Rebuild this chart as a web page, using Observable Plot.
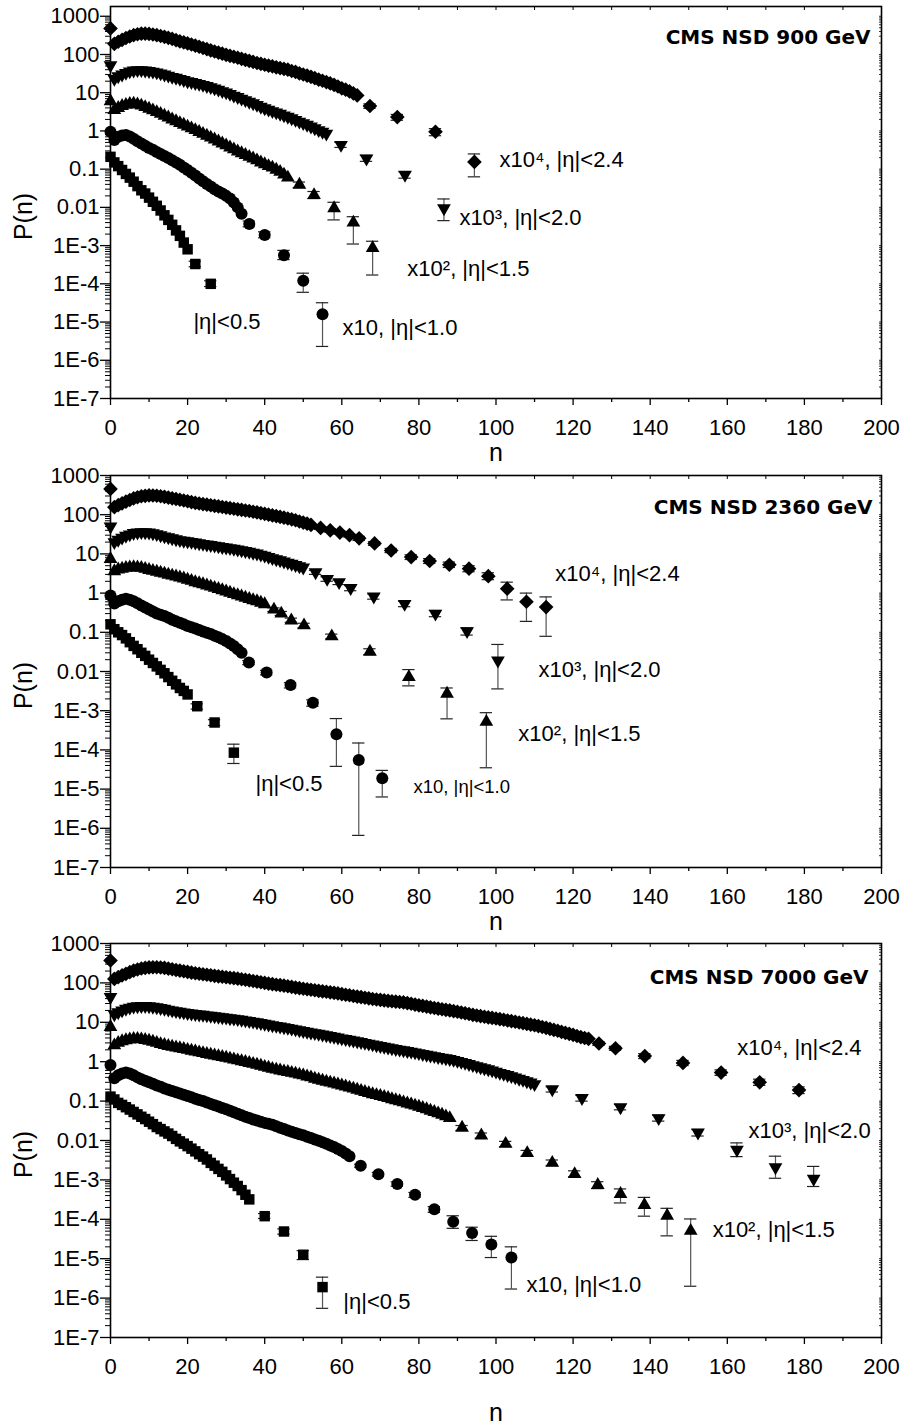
<!DOCTYPE html>
<html><head><meta charset="utf-8">
<script src="https://cdn.jsdelivr.net/npm/d3@7"></script>
<script src="https://cdn.jsdelivr.net/npm/@observablehq/plot@0.6"></script>
<style>
html,body{margin:0;padding:0;background:#fff;}
#chart{width:903px;}
#chart svg{display:block;}
</style></head><body><div id="chart"></div>
<script>
// ---------- dense part of every series: one value per multiplicity n = 0, 1, 2, ... ----------
// ---------- 900 GeV ----------
const dense900_05 = [0.21, 0.15, 0.12, 0.095, 0.075, 0.06, 0.047, 0.036, 0.028, 0.023, 0.018, 0.014, 0.011, 0.0083, 0.0062, 0.0047, 0.0035, 0.0025, 0.0018, 0.0012, 0.0008];
const dense900_10 = [0.95, 0.58, 0.7, 0.76, 0.78, 0.71, 0.62, 0.54, 0.47, 0.41, 0.36, 0.32, 0.28, 0.25, 0.22, 0.195, 0.17, 0.15, 0.13, 0.11, 0.095, 0.08, 0.068, 0.057, 0.048, 0.041, 0.035, 0.03, 0.026, 0.023, 0.02, 0.017, 0.0135, 0.01, 0.0068];
const dense900_15 = [6, 3.5, 4.0, 4.5, 4.8, 5.1, 5.2, 4.9, 4.6, 4.2, 3.8, 3.45, 3.1, 2.8, 2.5, 2.25, 2.0, 1.8, 1.6, 1.45, 1.3, 1.17, 1.05, 0.94, 0.84, 0.75, 0.67, 0.6, 0.53, 0.47, 0.42, 0.37, 0.33, 0.29, 0.26, 0.235, 0.21, 0.19, 0.17, 0.15, 0.135, 0.12, 0.11, 0.097, 0.085, 0.072, 0.06];
const dense900_20 = [52, 23, 27, 30, 33, 36, 38, 39, 39, 38, 37, 35.5, 34, 32, 30, 28, 26, 24.5, 23, 21.5, 20, 19, 18, 17, 16, 15, 14, 13, 12, 11, 10.2, 9.3, 8.4, 7.7, 7.0, 6.4, 5.8, 5.3, 4.8, 4.3, 3.9, 3.6, 3.3, 3.05, 2.8, 2.55, 2.35, 2.15, 1.95, 1.75, 1.6, 1.45, 1.3, 1.17, 1.05, 0.95, 0.85];
const dense900_24 = [480, 190, 215, 240, 270, 295, 320, 338, 350, 350, 345, 333, 320, 305, 290, 272, 255, 237, 220, 207, 195, 182, 170, 159, 148, 138, 128, 120, 112, 105, 98, 92, 87, 82, 77, 72, 68, 64, 60, 57, 54, 51, 49, 46, 44, 42, 40, 37, 35, 32, 30, 28, 26, 24, 22, 20.5, 19, 17.5, 16, 14.5, 13, 12, 10.8, 9.6, 8.5];
// tail points: [n, P, low, high]
const tail900_05 = [[22, 3.3e-4, 2.8e-4, 3.9e-4], [26, 1.0e-4, 8.5e-5, 1.2e-4]];
const tail900_10 = [[36, 0.0037, 0.0031, 0.0044], [40, 0.0019, 0.0016, 0.0023], [45, 5.6e-4, 4.3e-4, 7.5e-4], [50, 1.2e-4, 6e-5, 1.9e-4], [55, 1.6e-5, 2.3e-6, 3.2e-5]];
const tail900_15 = [[49, 0.039, 0.033, 0.046], [52.8, 0.021, 0.017, 0.026], [58, 0.0095, 0.0047, 0.0136], [63, 0.004, 0.0011, 0.0057], [68, 8.6e-4, 1.7e-4, 0.0013]];
const tail900_20 = [[59.8, 0.43, 0.37, 0.5], [66.4, 0.19, 0.16, 0.23], [76.4, 0.071, 0.058, 0.085], [86.5, 0.0095, 0.0045, 0.0166]];
const tail900_24 = [[67.3, 4.5, 3.9, 5.1], [74.4, 2.3, 1.9, 2.7], [84.3, 0.95, 0.75, 1.15], [94.4, 0.155, 0.063, 0.25]];

// ---------- 2360 GeV ----------
const dense2360_05 = [0.16, 0.12, 0.1, 0.085, 0.07, 0.056, 0.045, 0.037, 0.03, 0.025, 0.02, 0.0165, 0.0135, 0.011, 0.009, 0.0072, 0.0058, 0.0047, 0.0038, 0.0032, 0.0026];
const dense2360_10 = [0.87, 0.54, 0.62, 0.68, 0.72, 0.68, 0.62, 0.55, 0.48, 0.43, 0.38, 0.34, 0.3, 0.28, 0.26, 0.235, 0.21, 0.19, 0.175, 0.16, 0.145, 0.135, 0.125, 0.115, 0.105, 0.097, 0.09, 0.082, 0.075, 0.067, 0.06, 0.052, 0.045, 0.037, 0.03];
const dense2360_15 = [7.4, 3.6, 4.0, 4.2, 4.4, 4.5, 4.6, 4.5, 4.4, 4.15, 3.9, 3.7, 3.5, 3.3, 3.15, 2.95, 2.8, 2.65, 2.5, 2.35, 2.2, 2.05, 1.9, 1.78, 1.68, 1.57, 1.46, 1.36, 1.27, 1.18, 1.1, 1.02, 0.94, 0.88, 0.82, 0.76, 0.71, 0.66, 0.62, 0.57, 0.52];
const dense2360_20 = [50, 20, 23, 26, 29, 31.5, 34, 35, 36, 35.5, 35, 33.5, 32, 30, 28, 26.5, 25, 23.7, 22.5, 21.7, 21, 20.2, 19.5, 18.7, 18, 17.4, 16.8, 16.2, 15.6, 15, 14.5, 14, 13.5, 12.9, 12.4, 11.8, 11.3, 10.7, 10.2, 9.6, 9.0, 8.4, 7.8, 7.3, 6.9, 6.4, 6.0, 5.6, 5.2, 4.85, 4.5];
const dense2360_24 = [455, 156, 175, 195, 215, 237, 260, 278, 295, 303, 310, 308, 305, 295, 285, 273, 262, 251, 240, 230, 220, 210, 200, 193, 186, 180, 174, 168, 163, 157, 152, 147, 142, 137, 133, 128, 124, 119, 115, 110, 105, 100, 96, 92, 88, 84, 80, 76, 72, 67, 63, 59, 55];
const tail2360_05 = [[22.5, 0.0013, 0.0011, 0.0015], [27, 5e-4, 4.2e-4, 5.9e-4], [32, 8.5e-5, 4.5e-5, 1.4e-4]];
const tail2360_10 = [[35.9, 0.017, 0.015, 0.019], [40.5, 0.0094, 0.0082, 0.0107], [46.7, 0.0045, 0.0038, 0.0052], [52.5, 0.0016, 0.0013, 0.0019], [58.6, 2.5e-4, 3.8e-5, 6.3e-4], [64.4, 5.5e-5, 6.6e-7, 1.5e-4], [70.5, 1.9e-5, 6.3e-6, 3e-5]];
const tail2360_15 = [[42.4, 0.38, 0.34, 0.42], [44.3, 0.3, 0.27, 0.34], [46.9, 0.2, 0.18, 0.23], [50.2, 0.15, 0.13, 0.17], [57.4, 0.079, 0.068, 0.09], [67.3, 0.032, 0.027, 0.038], [77.4, 0.0072, 0.0043, 0.0112], [87.3, 0.0027, 6.2e-4, 0.0038], [97.5, 5.2e-4, 3.5e-5, 8.9e-4]];
const tail2360_20 = [[53.2, 3.4, 3.0, 3.8], [56.2, 2.3, 2.0, 2.6], [59.3, 1.9, 1.65, 2.15], [62.3, 1.35, 1.15, 1.55], [68.3, 0.82, 0.7, 0.95], [76.3, 0.53, 0.45, 0.62], [84.3, 0.3, 0.25, 0.36], [92.5, 0.107, 0.085, 0.13], [100.5, 0.019, 0.0036, 0.049]];
const tail2360_24 = [[54.5, 46, 42, 50], [57, 40, 36, 44], [59.5, 35, 32, 38], [62, 30, 27, 33], [64.5, 25, 22, 28], [68.5, 18.5, 16.5, 20.5], [72.8, 12.2, 10.8, 13.8], [78, 8.3, 7.2, 9.5], [82.8, 6.6, 5.7, 7.6], [87.9, 5.3, 4.5, 6.2], [93, 4.2, 3.5, 5.0], [98, 2.7, 2.2, 3.3], [102.9, 1.3, 0.67, 1.9], [107.9, 0.6, 0.19, 1.0], [113, 0.44, 0.079, 0.8]];

// ---------- 7000 GeV ----------
const dense7000_05 = [0.13, 0.11, 0.09, 0.08, 0.07, 0.061, 0.053, 0.046, 0.04, 0.035, 0.03, 0.026, 0.022, 0.0195, 0.017, 0.015, 0.013, 0.011, 0.0095, 0.0083, 0.0072, 0.0062, 0.0053, 0.0045, 0.0039, 0.0033, 0.0027, 0.0023, 0.0019, 0.0016, 0.0013, 0.00105, 8.5e-4, 7e-4, 5.5e-4, 4.2e-4, 3.2e-4];
const dense7000_10 = [0.83, 0.38, 0.45, 0.5, 0.53, 0.5, 0.45, 0.4, 0.36, 0.33, 0.3, 0.275, 0.25, 0.23, 0.21, 0.195, 0.18, 0.167, 0.155, 0.145, 0.135, 0.125, 0.115, 0.107, 0.1, 0.092, 0.085, 0.079, 0.073, 0.067, 0.062, 0.057, 0.052, 0.048, 0.044, 0.04, 0.037, 0.034, 0.032, 0.03, 0.028, 0.0265, 0.025, 0.023, 0.021, 0.0195, 0.018, 0.0167, 0.0155, 0.0145, 0.0135, 0.0125, 0.0115, 0.0106, 0.0098, 0.009, 0.0083, 0.0075, 0.0068, 0.0061, 0.0054, 0.0047, 0.004];
const dense7000_15 = [7.6, 2.6, 3.0, 3.3, 3.5, 3.65, 3.8, 3.8, 3.7, 3.55, 3.4, 3.2, 3.0, 2.8, 2.65, 2.5, 2.4, 2.3, 2.2, 2.1, 2.0, 1.9, 1.82, 1.73, 1.65, 1.57, 1.5, 1.44, 1.38, 1.32, 1.26, 1.2, 1.14, 1.08, 1.03, 0.98, 0.93, 0.88, 0.84, 0.79, 0.74, 0.7, 0.66, 0.63, 0.6, 0.57, 0.55, 0.52, 0.5, 0.47, 0.45, 0.42, 0.4, 0.37, 0.35, 0.33, 0.31, 0.295, 0.28, 0.265, 0.25, 0.235, 0.22, 0.207, 0.195, 0.182, 0.17, 0.16, 0.15, 0.142, 0.135, 0.127, 0.12, 0.112, 0.105, 0.099, 0.093, 0.087, 0.082, 0.077, 0.072, 0.067, 0.062, 0.057, 0.053, 0.049, 0.045, 0.041, 0.037];
const dense7000_20 = [44, 16, 18, 20, 22, 23.5, 25, 25.5, 26, 26, 25.5, 24.8, 24, 23, 22, 21, 20, 19.2, 18.5, 17.8, 17.2, 16.7, 16.2, 15.8, 15.5, 15, 14.6, 14.2, 13.8, 13.4, 13.1, 12.7, 12.4, 12, 11.6, 11.2, 10.8, 10.4, 10, 9.6, 9.2, 8.8, 8.4, 8.1, 7.8, 7.5, 7.2, 6.9, 6.6, 6.3, 6.0, 5.75, 5.5, 5.3, 5.1, 4.9, 4.7, 4.5, 4.3, 4.1, 3.9, 3.75, 3.6, 3.45, 3.3, 3.15, 3.0, 2.87, 2.75, 2.62, 2.5, 2.4, 2.3, 2.2, 2.1, 2.02, 1.95, 1.87, 1.8, 1.72, 1.65, 1.57, 1.5, 1.44, 1.38, 1.32, 1.27, 1.22, 1.17, 1.11, 1.05, 0.99, 0.93, 0.87, 0.82, 0.77, 0.72, 0.68, 0.64, 0.6, 0.56, 0.52, 0.49, 0.46, 0.43, 0.4, 0.37, 0.345, 0.32, 0.295, 0.27];
const dense7000_24 = [370, 126, 140, 155, 170, 187, 205, 219, 232, 240, 247, 249, 250, 246, 240, 231, 222, 213, 205, 197, 190, 183, 176, 171, 166, 161, 156, 151, 147, 143, 139, 135, 132, 128, 124, 120, 116, 112, 108, 104, 100, 96, 93, 90, 88, 85, 82, 79, 76, 73.5, 71, 69, 67, 65, 63, 61, 59.5, 57.5, 56, 54, 52, 50, 48.5, 46.5, 45, 43.5, 42, 40.5, 39, 38, 37, 36, 35, 34.2, 33.5, 32.7, 32, 30.7, 29.5, 28.2, 27, 26, 25, 24, 23, 22.2, 21.5, 20.7, 20, 19.2, 18.5, 17.7, 17, 16.2, 15.5, 14.9, 14.3, 13.8, 13.3, 12.9, 12.5, 12, 11.6, 11.1, 10.7, 10.3, 9.9, 9.5, 9.1, 8.7, 8.4, 8, 7.6, 7.2, 6.8, 6.4, 6.1, 5.7, 5.4, 5.1, 4.8, 4.5, 4.2, 4.0, 3.8];
const tail7000_05 = [[40, 1.2e-4, 1.05e-4, 1.4e-4], [45, 4.9e-5, 4.2e-5, 5.7e-5], [50, 1.26e-5, 9.5e-6, 1.6e-5], [55, 1.9e-6, 5.5e-7, 3.4e-6]];
const tail7000_10 = [[64.9, 0.0023, 0.0021, 0.0025], [69.5, 0.0014, 0.00125, 0.00155], [74.4, 7.9e-4, 6.9e-4, 8.9e-4], [79, 4.2e-4, 3.6e-4, 4.8e-4], [84, 1.8e-4, 1.5e-4, 2.1e-4], [88.9, 8.7e-5, 5.9e-5, 1.23e-4], [93.8, 4.5e-5, 2.9e-5, 6.3e-5], [98.8, 2.3e-5, 1.07e-5, 3.7e-5], [104, 1.07e-5, 1.7e-6, 2.0e-5]];
const tail7000_15 = [[91.2, 0.021, 0.018, 0.024], [96.2, 0.0134, 0.0115, 0.0155], [102.5, 0.0082, 0.007, 0.0095], [108.1, 0.0048, 0.004, 0.0056], [114.6, 0.0027, 0.0023, 0.0032], [120.4, 0.0014, 0.0012, 0.0017], [126.4, 7.4e-4, 6.0e-4, 9.0e-4], [132.3, 4.4e-4, 2.6e-4, 5.9e-4], [138.5, 2.3e-4, 1.2e-4, 3.6e-4], [144.4, 1.23e-4, 3.8e-5, 1.9e-4], [150.5, 5.1e-5, 2e-6, 1.02e-4]];
const tail7000_20 = [[114.6, 0.2, 0.17, 0.23], [122.3, 0.12, 0.1, 0.14], [132.3, 0.07, 0.06, 0.082], [142.2, 0.037, 0.031, 0.044], [152.4, 0.016, 0.013, 0.019], [162.5, 0.0058, 0.0039, 0.0087], [172.5, 0.0021, 0.0011, 0.004], [182.4, 0.00107, 6.8e-4, 0.0022]];
const tail7000_24 = [[126.7, 2.9, 2.6, 3.2], [131, 2.2, 1.95, 2.45], [138.6, 1.39, 1.2, 1.6], [148.5, 0.93, 0.8, 1.08], [158.4, 0.53, 0.45, 0.62], [168.4, 0.3, 0.25, 0.36], [178.6, 0.19, 0.155, 0.23]];

// ---------- text ----------
const titles = ["CMS NSD 900 GeV", "CMS NSD 2360 GeV", "CMS NSD 7000 GeV"];
const seriesKeys = ["0.5", "1.0", "1.5", "2.0", "2.4"];
const seriesLabels = ["|η|<0.5", "x10, |η|<1.0", "x10², |η|<1.5", "x10³, |η|<2.0", "x10⁴, |η|<2.4"];
const xTicks = [0, 20, 40, 60, 80, 100, 120, 140, 160, 180, 200];
const xTickLabels = ["0", "20", "40", "60", "80", "100", "120", "140", "160", "180", "200"];
const yTicks = [1e-7, 1e-6, 1e-5, 1e-4, 1e-3, 0.01, 0.1, 1, 10, 100, 1000];
const yTickLabels = ["1E-7", "1E-6", "1E-5", "1E-4", "1E-3", "0.01", "0.1", "1", "10", "100", "1000"];

// ---------- layout (label anchors in data coordinates, per series key) ----------
const labelPos = [
  {"0.5": [21.5, 1.02e-5], "1.0": [60.2, 7.1e-6], "1.5": [77.0, 2.4e-4], "2.0": [90.5, 0.0054], "2.4": [100.9, 0.174]},
  {"0.5": [37.6, 1.38e-5], "1.0": [78.6, 1.1e-5], "1.5": [105.8, 2.6e-4], "2.0": [111.0, 0.0107], "2.4": [115.4, 3.16]},
  {"0.5": [60.4, 8.1e-7], "1.0": [107.9, 2.1e-6], "1.5": [156.2, 5.5e-5], "2.0": [165.5, 0.0178], "2.4": [162.6, 2.29]}
];
const panelLayout = [
  {height: 465, marginTop: 6, marginBottom: 67, yMax: 1800, titleDx: -11, titleDy: 31, nDy: 54, smallKey: null},
  {height: 465, marginTop: 10, marginBottom: 63, yMax: 1000, titleDx: -9, titleDy: 32, nDy: 54, smallKey: "1.0"},
  {height: 495, marginTop: 13, marginBottom: 88, yMax: 1000, titleDx: -13, titleDy: 34, nDy: 75, smallKey: null}
];
const panelDense = [
  [dense900_05, dense900_10, dense900_15, dense900_20, dense900_24],
  [dense2360_05, dense2360_10, dense2360_15, dense2360_20, dense2360_24],
  [dense7000_05, dense7000_10, dense7000_15, dense7000_20, dense7000_24]
];
const panelTail = [
  [tail900_05, tail900_10, tail900_15, tail900_20, tail900_24],
  [tail2360_05, tail2360_10, tail2360_15, tail2360_20, tail2360_24],
  [tail7000_05, tail7000_10, tail7000_15, tail7000_20, tail7000_24]
];

const symbolOf = {"0.5": "square", "1.0": "circle", "1.5": "triangle", "2.0": "triangle", "2.4": "diamond2"};
const radiusOf = {"0.5": 5.9, "1.0": 6, "1.5": 5.1, "2.0": 5.1, "2.4": 6.6};
const FONT = "'Liberation Sans', Arial, sans-serif";

// axis decoration tick positions
const xMinor = xTicks.slice(1).map(v => v - 10);
const xTop = xTicks.slice(1, -1).concat(xMinor);
const yMinor = [];
yTicks.slice(0, -1).forEach(d => { for (let m = 2; m <= 9; m++) yMinor.push(d * m); });

function makePanel(pi) {
  const L = panelLayout[pi];
  const points = [], tails = [];
  seriesKeys.forEach((key, si) => {
    panelDense[pi][si].forEach((p, n) => points.push({n, p, key}));
    panelTail[pi][si].forEach(([n, p, lo, hi]) => { points.push({n, p, key}); tails.push({n, p, lo, hi, key}); });
  });
  const notes = seriesKeys.map((key, si) => ({key, text: seriesLabels[si], n: labelPos[pi][key][0], p: labelPos[pi][key][1]}));
  const dots = seriesKeys.map(key => Plot.dot(points.filter(d => d.key === key), {
    x: "n", y: "p", symbol: symbolOf[key], r: radiusOf[key], fill: "black", stroke: "none",
    rotate: key === "2.0" ? 180 : 0
  }));
  return Plot.plot({
    width: 903, height: L.height,
    marginLeft: 110, marginRight: 22, marginTop: L.marginTop, marginBottom: L.marginBottom,
    style: {fontFamily: FONT, fontSize: "22px", background: "white", color: "black", overflow: "visible"},
    x: {domain: [0, 200], label: null},
    y: {type: "log", domain: [1e-7, L.yMax], label: null},
    marks: [
      Plot.axisX(xTicks, {anchor: "bottom", tickSize: 7, tickPadding: 14, fontSize: 22, tickFormat: d => xTickLabels[xTicks.indexOf(d)], label: null, strokeWidth: 1.3}),
      Plot.axisX(xMinor, {anchor: "bottom", tickSize: 4, tickFormat: () => "", label: null, strokeWidth: 1.3}),
      Plot.axisX(xTop, {anchor: "top", tickSize: 3, dy: 3, tickFormat: () => "", label: null}),
      Plot.axisY(yTicks, {anchor: "left", tickSize: 10, tickPadding: 1, fontSize: 22, tickFormat: d => yTickLabels[yTicks.indexOf(d)], label: null, strokeWidth: 1.3}),
      Plot.axisY(yMinor, {anchor: "left", tickSize: 5, tickFormat: () => "", label: null}),
      Plot.axisY(yTicks.concat(yMinor), {anchor: "right", tickSize: 3, dx: -3, tickFormat: () => "", label: null, strokeWidth: 0.8}),
      Plot.ruleX(tails, {x: "n", y1: "lo", y2: "hi", stroke: "#555", strokeWidth: 1.2}),
      Plot.ruleY(tails, {y: "lo", x1: d => d.n - 1.6, x2: d => d.n + 1.6, stroke: "#222", strokeWidth: 1.2}),
      Plot.ruleY(tails, {y: "hi", x1: d => d.n - 1.6, x2: d => d.n + 1.6, stroke: "#222", strokeWidth: 1.2}),
      ...dots,
      Plot.frame({stroke: "black", strokeWidth: 1.6}),
      Plot.text(notes, {x: "n", y: "p", text: "text", textAnchor: "start", lineAnchor: "middle", fill: "black",
        fontFamily: FONT, fontSize: d => d.key === L.smallKey ? 18.5 : 22}),
      Plot.text([titles[pi]], {text: d => d, frameAnchor: "top-right", textAnchor: "end", lineAnchor: "middle",
        dx: L.titleDx, dy: L.titleDy, fontFamily: "'DejaVu Sans', sans-serif", fontWeight: "bold", fontSize: 20, fill: "black"}),
      Plot.text(["P(n)"], {text: d => d, frameAnchor: "left", dx: -87, dy: 14, rotate: -90, lineAnchor: "middle", textAnchor: "middle", fontSize: 25, fontFamily: FONT, fill: "black"}),
      Plot.text(["n"], {text: d => d, frameAnchor: "bottom", dy: L.nDy, lineAnchor: "middle", textAnchor: "middle", fontSize: 25, fontFamily: FONT, fill: "black"})
    ]
  });
}

const root = document.getElementById("chart");
[0, 1, 2].forEach(pi => root.appendChild(makePanel(pi)));
</script></body></html>
